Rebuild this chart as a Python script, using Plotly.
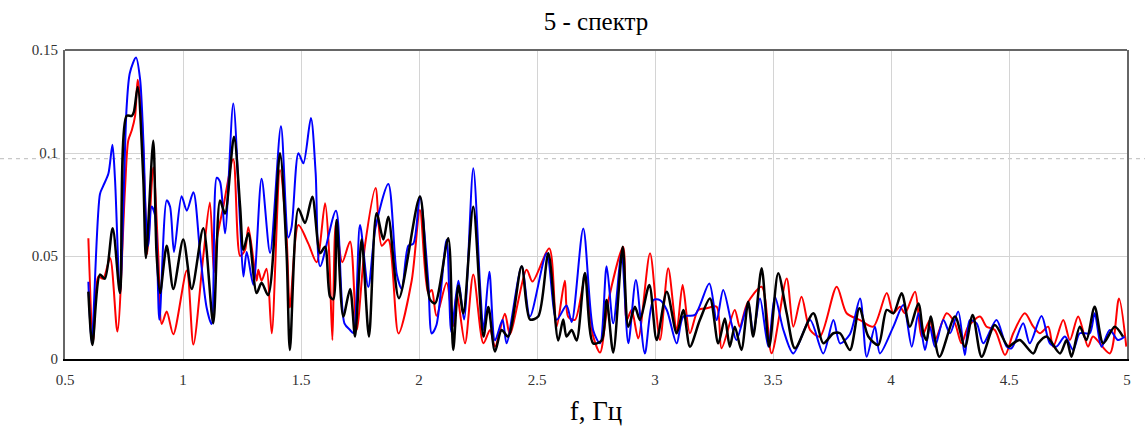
import plotly.graph_objects as go

# ---------------- data ----------------
red_f = [0.599, 0.620, 0.641, 0.662, 0.691, 0.722, 0.754, 0.768, 0.783, 0.797, 0.808, 0.825, 0.839, 0.849,
         0.874, 0.895, 0.910, 0.931, 0.959, 1.016, 1.044, 1.086, 1.114, 1.131, 1.143, 1.171, 1.213, 1.242,
         1.263, 1.277, 1.312, 1.319, 1.333, 1.354, 1.376, 1.411, 1.439, 1.453, 1.489, 1.531, 1.566, 1.602,
         1.619, 1.633, 1.648, 1.675, 1.708, 1.736, 1.771, 1.816, 1.842, 1.870, 1.913, 1.969, 2.004, 2.039,
         2.054, 2.074, 2.117, 2.145, 2.160, 2.195, 2.230, 2.273, 2.301, 2.322, 2.364, 2.385, 2.456, 2.481,
         2.552, 2.583, 2.618, 2.632, 2.661, 2.703, 2.738, 2.767, 2.802, 2.865, 2.880, 2.901, 2.929, 2.979,
         3.021, 3.056, 3.092, 3.117, 3.148, 3.183, 3.219, 3.261, 3.282, 3.338, 3.359, 3.391, 3.452, 3.494,
         3.558, 3.586, 3.621, 3.657, 3.699, 3.770, 3.812, 3.869, 3.925, 3.982, 4.010, 4.038, 4.059, 4.102,
         4.130, 4.165, 4.186, 4.236, 4.271, 4.299, 4.327, 4.377, 4.405, 4.440, 4.483, 4.518, 4.567, 4.603,
         4.631, 4.666, 4.687, 4.730, 4.758, 4.793, 4.835, 4.856, 4.927, 4.966, 4.997]
red_v = [0.0586, 0.0085, 0.040, 0.039, 0.049, 0.0133, 0.082, 0.106, 0.111, 0.118, 0.1355, 0.118, 0.077, 0.051,
         0.093, 0.051, 0.017, 0.023, 0.012, 0.043, 0.007, 0.050, 0.076, 0.042, 0.058, 0.074, 0.097, 0.050,
         0.053, 0.064, 0.038, 0.0433, 0.038, 0.0438, 0.0125, 0.0917, 0.059, 0.025, 0.065, 0.056, 0.047, 0.0756,
         0.052, 0.0092, 0.066, 0.047, 0.057, 0.0141, 0.055, 0.083, 0.055, 0.058, 0.0124, 0.038, 0.0723, 0.032,
         0.0335, 0.021, 0.037, 0.016, 0.032, 0.0076, 0.041, 0.0076, 0.0141, 0.006, 0.022, 0.012, 0.0433, 0.0376,
         0.0537, 0.0157, 0.038, 0.0206, 0.019, 0.039, 0.011, 0.0031, 0.028, 0.0545, 0.0189, 0.0238, 0.0100, 0.0513,
         0.0092, 0.044, 0.0141, 0.0359, 0.0125, 0.0238, 0.0246, 0.0254, 0.0052, 0.0238, 0.0157, 0.027, 0.0351, 0.0028,
         0.0391, 0.0157, 0.0302, 0.0141, 0.0109, 0.0351, 0.0222, 0.0189, 0.0157, 0.032, 0.0222, 0.0254, 0.0222, 0.0327,
         0.0109, 0.0189, 0.0092, 0.0222, 0.0173, 0.0076, 0.0157, 0.0206, 0.0157, 0.0141, 0.0019, 0.0125, 0.0222, 0.0157,
         0.0125, 0.0157, 0.006, 0.0189, 0.0092, 0.0206, 0.006, 0.0109, 0.0027, 0.0294, 0.006]

blue_f = [0.599, 0.613, 0.648, 0.662, 0.684, 0.701, 0.712, 0.733, 0.761, 0.775, 0.801, 0.818, 0.832, 0.843,
          0.853, 0.867, 0.881, 0.900, 0.931, 0.945, 0.962, 0.994, 1.016, 1.044, 1.072, 1.100, 1.121, 1.143,
          1.157, 1.178, 1.213, 1.242, 1.256, 1.270, 1.298, 1.333, 1.369, 1.415, 1.446, 1.460, 1.489, 1.510,
          1.542, 1.562, 1.581, 1.648, 1.684, 1.708, 1.722, 1.750, 1.785, 1.816, 1.870, 1.906, 1.927, 1.955,
          1.976, 2.004, 2.039, 2.054, 2.074, 2.117, 2.137, 2.167, 2.191, 2.230, 2.259, 2.273, 2.298, 2.322,
          2.354, 2.371, 2.435, 2.470, 2.541, 2.583, 2.625, 2.647, 2.696, 2.738, 2.767, 2.795, 2.823, 2.858,
          2.887, 2.919, 2.957, 2.993, 3.021, 3.050, 3.092, 3.120, 3.169, 3.230, 3.261, 3.289, 3.324, 3.345,
          3.395, 3.416, 3.445, 3.480, 3.508, 3.544, 3.586, 3.657, 3.713, 3.756, 3.784, 3.826, 3.869, 3.897,
          3.932, 3.953, 4.010, 4.052, 4.088, 4.116, 4.144, 4.165, 4.186, 4.222, 4.250, 4.285, 4.313, 4.334,
          4.363, 4.391, 4.447, 4.490, 4.511, 4.560, 4.588, 4.638, 4.673, 4.701, 4.737, 4.772, 4.800, 4.842,
          4.863, 4.892, 4.927, 4.962, 4.990]
blue_v = [0.0375, 0.0076, 0.080, 0.084, 0.090, 0.104, 0.087, 0.032, 0.122, 0.139, 0.1464, 0.136, 0.106, 0.068,
          0.055, 0.074, 0.070, 0.019, 0.077, 0.074, 0.052, 0.079, 0.072, 0.081, 0.052, 0.025, 0.017, 0.088,
          0.086, 0.061, 0.124, 0.066, 0.040, 0.052, 0.036, 0.0875, 0.0515, 0.113, 0.059, 0.064, 0.0999, 0.095,
          0.117, 0.0905, 0.045, 0.072, 0.0173, 0.0141, 0.0126, 0.065, 0.035, 0.064, 0.085, 0.041, 0.034, 0.055,
          0.056, 0.0789, 0.038, 0.0124, 0.0165, 0.0579, 0.013, 0.038, 0.0192, 0.0926, 0.0352, 0.0141, 0.0424, 0.009,
          0.019, 0.0076, 0.0449, 0.0206, 0.0513, 0.019, 0.026, 0.018, 0.0634, 0.014, 0.0076, 0.045, 0.0173, 0.051,
          0.0076, 0.0383, 0.0027, 0.0286, 0.0286, 0.0238, 0.0076, 0.0206, 0.0214, 0.0367, 0.0189, 0.0335, 0.0173, 0.0092,
          0.027, 0.0125, 0.0294, 0.006, 0.0302, 0.0141, 0.0027, 0.0189, 0.0027, 0.0189, 0.0076, 0.012, 0.0294, 0.0011,
          0.0157, 0.0027, 0.0157, 0.0262, 0.006, 0.0222, 0.0044, 0.0157, 0.006, 0.0189, 0.0125, 0.0230, 0.0019, 0.0189,
          0.0173, 0.0076, 0.0189, 0.006, 0.0052, 0.0173, 0.0076, 0.0209, 0.0076, 0.006, 0.0109, 0.0044, 0.0125, 0.0125,
          0.0222, 0.006, 0.0141, 0.0092, 0.0109]

black_f = [0.599, 0.616, 0.648, 0.669, 0.702, 0.733, 0.761, 0.783, 0.792, 0.808, 0.832, 0.843, 0.874, 0.888,
           0.903, 0.931, 0.959, 1.001, 1.037, 1.086, 1.128, 1.157, 1.178, 1.216, 1.242, 1.256, 1.277, 1.312,
           1.333, 1.361, 1.411, 1.439, 1.453, 1.489, 1.517, 1.548, 1.581, 1.602, 1.623, 1.637, 1.651, 1.679,
           1.708, 1.729, 1.757, 1.788, 1.820, 1.849, 1.870, 1.915, 2.004, 2.046, 2.068, 2.124, 2.145, 2.167,
           2.188, 2.230, 2.273, 2.294, 2.322, 2.350, 2.378, 2.435, 2.470, 2.505, 2.548, 2.590, 2.611, 2.625,
           2.647, 2.668, 2.703, 2.738, 2.774, 2.795, 2.823, 2.863, 2.887, 2.915, 2.936, 2.976, 3.007, 3.050,
           3.092, 3.120, 3.148, 3.190, 3.233, 3.268, 3.296, 3.317, 3.338, 3.366, 3.395, 3.416, 3.452, 3.484,
           3.522, 3.558, 3.593, 3.671, 3.713, 3.756, 3.784, 3.826, 3.866, 3.904, 3.946, 3.982, 4.010, 4.045,
           4.080, 4.116, 4.137, 4.151, 4.168, 4.205, 4.271, 4.313, 4.346, 4.384, 4.440, 4.497, 4.518, 4.546,
           4.603, 4.624, 4.659, 4.716, 4.744, 4.765, 4.800, 4.828, 4.863, 4.899, 4.948, 4.983]
black_v = [0.0327, 0.0068, 0.041, 0.039, 0.0635, 0.032, 0.118, 0.118, 0.120, 0.132, 0.087, 0.049, 0.106, 0.051,
           0.032, 0.055, 0.034, 0.058, 0.034, 0.0635, 0.0174, 0.077, 0.0706, 0.1079, 0.074, 0.053, 0.061, 0.032,
           0.037, 0.031, 0.0999, 0.051, 0.0044, 0.073, 0.066, 0.0788, 0.0514, 0.0545, 0.0303, 0.029, 0.0675, 0.0206,
           0.034, 0.0109, 0.058, 0.0109, 0.0707, 0.058, 0.069, 0.0295, 0.0789, 0.029, 0.027, 0.0586, 0.0044, 0.0357,
           0.0222, 0.0739, 0.0109, 0.0253, 0.0036, 0.0141, 0.0109, 0.045, 0.0192, 0.0206, 0.0513, 0.009, 0.0192, 0.0109,
           0.0141, 0.009, 0.0417, 0.0076, 0.009, 0.0286, 0.0031, 0.0545, 0.0157, 0.0254, 0.0189, 0.0359, 0.0092, 0.0327,
           0.0125, 0.0238, 0.006, 0.0189, 0.0294, 0.0076, 0.0196, 0.006, 0.0157, 0.0044, 0.0278, 0.0109, 0.044, 0.006,
           0.0416, 0.0222, 0.0052, 0.0222, 0.0076, 0.0125, 0.0125, 0.0044, 0.0246, 0.0109, 0.0068, 0.0238, 0.0222, 0.0319,
           0.0157, 0.027, 0.0125, 0.0092, 0.0206, 0.0011, 0.0206, 0.006, 0.0214, 0.0011, 0.0165, 0.006, 0.0076, 0.0092,
           0.0027, 0.0076, 0.0109, 0.0027, 0.0092, 0.0011, 0.0157, 0.0092, 0.0254, 0.0076, 0.0157, 0.0109]

x_ticks = [0.5, 1, 1.5, 2, 2.5, 3, 3.5, 4, 4.5, 5]
y_ticks = [0, 0.05, 0.1, 0.15]
x_range = [0.5, 5]
y_range = [0, 0.15]
dashed_level = 0.0973
title_text = "5 - спектр"
x_title = "f, Гц"

# ---------------- figure ----------------
W, H = 1145, 430
L, R, T, B = 65, 18, 50, 71
serif = "Liberation Serif, Times New Roman, serif"

fig = go.Figure()
for fx, fy, col, w in [(red_f, red_v, "#ff0000", 2), (blue_f, blue_v, "#0000ff", 2),
                       (black_f, black_v, "#000000", 2.5)]:
    fig.add_trace(go.Scatter(x=fx, y=fy, mode="lines",
                             line=dict(color=col, width=w, shape="spline", smoothing=0.8),
                             showlegend=False, hoverinfo="skip"))

plot_w = W - L - R
fig.add_shape(type="line", xref="paper", yref="paper",
              x0=-L / plot_w, x1=(W - L) / plot_w,
              y0=dashed_level / y_range[1], y1=dashed_level / y_range[1],
              line=dict(color="#c8c8c8", width=1.3, dash="4px,4px"), layer="below")
# top border
fig.add_shape(type="line", xref="paper", yref="paper", x0=0, x1=1, y0=1, y1=1,
              line=dict(color="#666666", width=2))

fig.update_layout(
    width=W, height=H,
    margin=dict(l=L, r=R, t=T, b=B, autoexpand=False),
    paper_bgcolor="white", plot_bgcolor="white",
    title=dict(text=title_text, x=(L + plot_w / 2) / W, xanchor="center",
               y=1 - 21 / H, yanchor="middle", yref="container",
               font=dict(family=serif, size=25, color="#000000")),
    xaxis=dict(range=x_range, tickvals=x_ticks, ticktext=[f"{v:g}" for v in x_ticks],
               showgrid=True, gridcolor="#d4d4d4", gridwidth=1,
               showline=True, linecolor="#000000", linewidth=1.5, mirror=False,
               ticks="", zeroline=False, ticklabelstandoff=6, automargin=False,
               tickfont=dict(family=serif, size=15, color="#333333"),
               title=dict(text=x_title, font=dict(family=serif, size=27, color="#000000"), standoff=14)),
    yaxis=dict(range=y_range, tickvals=y_ticks, ticktext=[f"{v:g}" for v in y_ticks],
               showgrid=True, gridcolor="#d4d4d4", gridwidth=1,
               showline=True, linecolor="#666666", linewidth=2, mirror=True,
               ticks="", zeroline=False, ticklabelstandoff=2, automargin=False,
               tickfont=dict(family=serif, size=15, color="#333333")),
)

fig.write_html("out.html")
